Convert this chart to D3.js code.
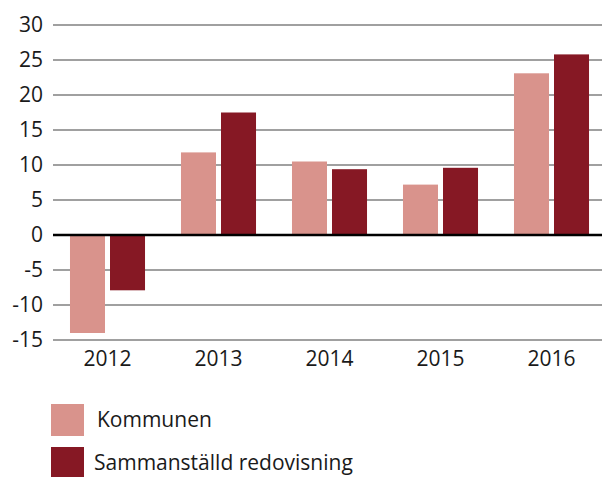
<!DOCTYPE html>
<html>
<head>
<meta charset="utf-8">
<script src="https://cdn.jsdelivr.net/npm/d3@7"></script>
<style>
  body { margin: 0; background: #fff; }
  text { font-family: "Open Sans", "Noto Sans", sans-serif; fill: #1a1a1a; }
</style>
</head>
<body>
<svg width="602" height="477"></svg>
<script>
var years = ["2012", "2013", "2014", "2015", "2016"];
var seriesNames = ["Kommunen", "Sammanställd redovisning"];
var kommunen = [-14.0, 11.8, 10.5, 7.2, 23.1];
var sammanstalld = [-7.9, 17.5, 9.4, 9.6, 25.8];
var yTicks = [-15, -10, -5, 0, 5, 10, 15, 20, 25, 30];
var colors = ["#d9938c", "#861824"];

var svg = d3.select("svg");

var xScale = d3.scaleBand().domain(years).range([52, 607]).paddingInner(0.324).paddingOuter(0.162);
var subScale = d3.scaleBand().domain(seriesNames).range([0, xScale.bandwidth()]).paddingInner(0.125);
var yScale = d3.scaleLinear().domain([-15, 30]).range([340, 25]);
var colorScale = d3.scaleOrdinal().domain(seriesNames).range(colors);

// gridlines + tick labels
var yAxis = d3.axisLeft(yScale).tickValues(yTicks).tickFormat(d => String(d)).tickSize(0).tickPadding(10);
var gy = svg.append("g").attr("transform", "translate(53,0)").call(yAxis);
gy.select(".domain").remove();
gy.selectAll("text").style("font-size", "21px").attr("fill", "#1a1a1a");

svg.append("g")
  .selectAll("line")
  .data(yTicks.filter(d => d !== 0))
  .enter().append("line")
  .attr("x1", 53).attr("x2", 602)
  .attr("y1", d => yScale(d)).attr("y2", d => yScale(d))
  .attr("stroke", "#808080")
  .attr("stroke-width", 1.3);

var rows = years.map((y, i) => ({ year: y, values: [kommunen[i], sammanstalld[i]] }));

svg.append("g")
  .selectAll("g")
  .data(rows)
  .enter().append("g")
  .attr("transform", d => "translate(" + xScale(d.year) + ",0)")
  .selectAll("rect")
  .data(d => d.values.map((v, j) => ({ key: seriesNames[j], value: v })))
  .enter().append("rect")
  .attr("x", d => subScale(d.key))
  .attr("width", subScale.bandwidth())
  .attr("y", d => yScale(Math.max(0, d.value)))
  .attr("height", d => Math.abs(yScale(d.value) - yScale(0)))
  .attr("fill", d => colorScale(d.key));

// zero line
svg.append("line")
  .attr("x1", 53).attr("x2", 602)
  .attr("y1", yScale(0)).attr("y2", yScale(0))
  .attr("stroke", "#000")
  .attr("stroke-width", 2.5);

// x axis labels
var xAxis = d3.axisBottom(xScale).tickSize(0).tickPadding(11);
var gx = svg.append("g").attr("transform", "translate(0," + yScale(-15) + ")").call(xAxis);
gx.select(".domain").remove();
gx.selectAll("text").style("font-size", "21px").attr("fill", "#1a1a1a");

// legend
var legend = svg.append("g")
  .selectAll("g")
  .data(seriesNames)
  .enter().append("g")
  .attr("transform", (d, i) => "translate(51," + (404 + i * 43) + ")");

legend.append("rect")
  .attr("width", 33).attr("height", 32)
  .attr("fill", d => colorScale(d));

legend.append("text")
  .attr("x", (d, i) => i === 0 ? 46 : 43)
  .attr("y", 16)
  .attr("dy", "0.35em")
  .style("font-size", "21px")
  .text(d => d);
</script>
</body>
</html>
